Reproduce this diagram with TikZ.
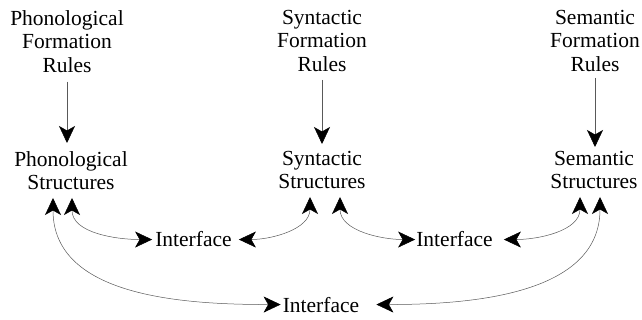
\documentclass[tikz,border=0pt]{standalone}
\usepackage{fontspec}
\setmainfont{Liberation Serif}
\usetikzlibrary{arrows.meta}

\tikzset{
  dart/.tip={Stealth[length=17pt,width=16pt,inset=4.5pt,color=black]},
  lab/.style={align=center, inner sep=0pt, font=\fontsize{21.5pt}{23.5pt}\selectfont},
  arr/.style={-dart, line width=0.5pt, draw=black!65},
  bi/.style={dart-dart, line width=0.5pt, draw=black!65}
}

\begin{document}
\begin{tikzpicture}[x=1pt,y=-1pt]
    \useasboundingbox (0,0) rectangle (642,320);

		% formation rules
		\node [lab,anchor=north] (phr) at (67,10) {Phonological\\Formation\\Rules};
		\node [lab,anchor=north] (syr) at (322,10) {Syntactic\\Formation\\Rules};
		\node [lab,anchor=north] (ser) at (595,10) {Semantic\\Formation\\Rules};

		% structures
		\node [lab,anchor=north] (phs) at (71,151) {Phonological\\Structures};
		\node [lab,anchor=north] (sys) at (322,151) {Syntactic\\Structures};
		\node [lab,anchor=north] (ses) at (594,151) {Semantic\\Structures};

		% interfaces
		\node [lab,anchor=base] (if1) at (193.5,247) {Interface};
		\node [lab,anchor=base] (if2) at (454.5,247) {Interface};
		\node [lab,anchor=base] (if3) at (321,312) {Interface};

		\coordinate (p1) at (53,198);
		\coordinate (p2) at (72,198);
		\coordinate (s1) at (310,197);
		\coordinate (s2) at (340,197);
		\coordinate (m1) at (580,197);
		\coordinate (m2) at (600,197);

		\draw [arr,shorten <=9pt,shorten >=8pt] (phr.south) -- (phr.south |- phs.north);
		\draw [arr,shorten <=8pt,shorten >=7pt] (syr.south) -- (syr.south |- sys.north);
		\draw [arr,shorten <=6pt,shorten >=4pt] (ser.south) -- (ser.south |- ses.north);

		\draw [bi] (p2) to [out=-90,in=180] ([xshift=-3pt]if1.west);
		\draw [bi] (s1) to [out=-90,in=0] ([xshift=7pt]if1.east);
		\draw [bi] (s2) to [out=-90,in=180] ([xshift=-1pt]if2.west);
		\draw [bi] (m1) to [out=-90,in=0] ([xshift=11pt]if2.east);
		\draw [bi] (p1) to [out=-90,in=180] ([xshift=-2pt]if3.west);
		\draw [bi] (m2) to [out=-90,in=0] ([xshift=17pt]if3.east);
\end{tikzpicture}
\end{document}
